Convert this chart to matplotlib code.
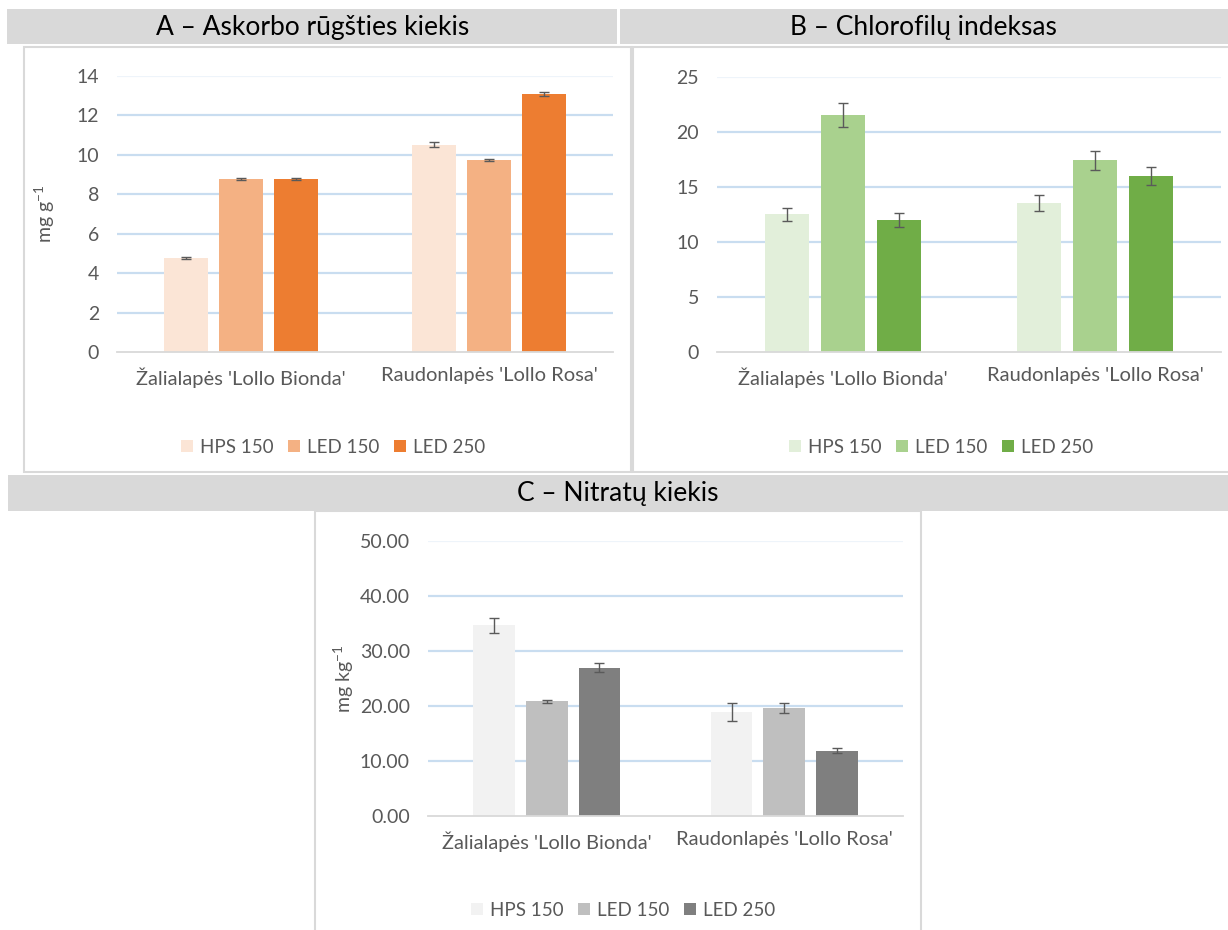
import matplotlib
matplotlib.use("Agg")
import matplotlib.pyplot as plt
from matplotlib.patches import Rectangle
import numpy as np

plt.rcParams['font.family'] = ['Lato', 'DejaVu Sans']
plt.rcParams['mathtext.fontset'] = 'custom'
plt.rcParams['mathtext.rm'] = 'Lato'
plt.rcParams['mathtext.default'] = 'regular'

# data
categories = ["Žalialapės 'Lollo Bionda'", "Raudonlapės 'Lollo Rosa'"]
series = ["HPS 150", "LED 150", "LED 250"]

vitc = [[4.78, 10.52], [8.78, 9.73], [8.76, 13.10]]
vitc_err = [[0.06, 0.12], [0.05, 0.04], [0.05, 0.10]]

chl = [[12.52, 13.56], [21.55, 17.41], [11.98, 16.04]]
chl_err = [[0.60, 0.71], [1.07, 0.85], [0.62, 0.82]]

nitr = [[34.65, 18.93], [20.88, 19.60], [27.00, 11.83]]
nitr_err = [[1.37, 1.60], [0.25, 0.88], [0.76, 0.45]]

orange = ['#FBE5D6', '#F4B183', '#ED7D31']
green = ['#E2EFDA', '#A9D18E', '#70AD47']
grey = ['#F2F2F2', '#BFBFBF', '#7F7F7F']

W, H = 1228, 930
fig = plt.figure(figsize=(W / 100, H / 100), dpi=100)


def box(x0, y0, x1, y1, **kw):
    # rectangle in pixel coords (y from top), kept behind the axes
    fig.patches.append(Rectangle((x0 / W, 1 - y1 / H), (x1 - x0) / W, (y1 - y0) / H,
                                 transform=fig.transFigure, zorder=-5, **kw))


def axes_px(l, t, r, b):
    return fig.add_axes([l / W, 1 - b / H, (r - l) / W, (b - t) / H])


# title bars and frames
box(7, 9, 617, 44, facecolor='#D9D9D9', edgecolor='none')
box(620, 9, 1228, 44, facecolor='#D9D9D9', edgecolor='none')
box(24, 47, 631, 472, facecolor='white', edgecolor='#D9D9D9', lw=1.5)
box(633, 47, 1230, 472, facecolor='white', edgecolor='#D9D9D9', lw=1.5)
box(8, 475, 1228, 511, facecolor='#D9D9D9', edgecolor='none')
box(315, 511, 921, 932, facecolor='white', edgecolor='#D9D9D9', lw=1.5)

fig.text(313 / W, 1 - 28 / H, "A – Askorbo rūgšties kiekis", ha='center', va='center', fontsize=19)
fig.text(923 / W, 1 - 28 / H, "B – Chlorofilų indeksas", ha='center', va='center', fontsize=19)
fig.text(618 / W, 1 - 493 / H, "C – Nitratų kiekis", ha='center', va='center', fontsize=19)


def panel(rect, vals, errs, colors, ymax, step, fmt, ylabel, ylab_x, leg_xy):
    ax = axes_px(*rect)
    x = np.arange(len(categories))
    ticks = np.arange(0, ymax + step / 2, step)
    for t in ticks[1:]:
        c = '#EEF4FA' if t == ticks[-1] else '#C9DDF0'
        ax.axhline(t, color=c, lw=1.6, zorder=0)
    for i, name in enumerate(series):
        ax.bar(x + (i - 1) * 0.222, vals[i], 0.175, color=colors[i], label=name, zorder=2,
               yerr=errs[i], error_kw=dict(ecolor='#5A5A5A', elinewidth=1, capsize=3.5, capthick=1))
    ax.set_xlim(-0.5, 1.5)
    ax.set_ylim(0, ymax)
    ax.set_yticks(ticks)
    ax.set_yticklabels([fmt.format(t) for t in ticks])
    ax.set_xticks(x)
    ax.set_xticklabels(categories)
    ax.tick_params(length=0, labelcolor='#595959')
    ax.tick_params(axis='y', pad=13, labelsize=14)
    ax.tick_params(axis='x', pad=11, labelsize=14.5)
    for s in ['top', 'right', 'left']:
        ax.spines[s].set_visible(False)
    ax.spines['bottom'].set_color('#D9D9D9')
    ax.spines['bottom'].set_linewidth(1.3)
    ax.patch.set_alpha(0)
    if ylabel:
        l, t, r, b = rect
        fig.text(ylab_x / W, 1 - (t + b) / 2 / H, ylabel, rotation=90, ha='center', va='center',
                 fontsize=14, color='#595959')
    leg = ax.legend(loc='center', bbox_to_anchor=(leg_xy[0] / W, 1 - leg_xy[1] / H),
                    bbox_transform=fig.transFigure, ncol=3, frameon=False, fontsize=13.5,
                    handlelength=0.65, handleheight=0.65, handletextpad=0.35, columnspacing=0.8)
    for txt in leg.get_texts():
        txt.set_color('#595959')
    return ax


panel((117, 76, 613, 352), vitc, vitc_err, orange, 14, 2, '{:.0f}', r'mg g$^{-1}$', 45, (333, 447))
panel((717, 77, 1221, 352), chl, chl_err, green, 25, 5, '{:.0f}', None, 0, (941, 447))
panel((428, 541, 903, 816), nitr, nitr_err, grey, 50, 10, '{:.2f}', r'mg kg$^{-1}$', 344, (623, 910))

fig.savefig('out.png', dpi=100)
